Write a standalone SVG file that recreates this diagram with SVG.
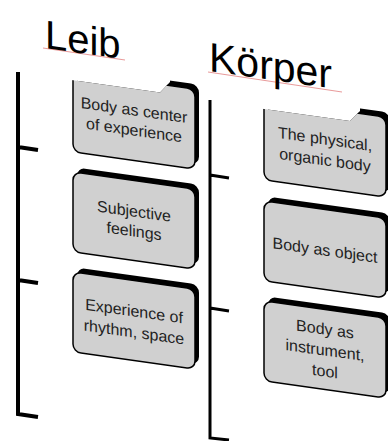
<svg xmlns="http://www.w3.org/2000/svg" width="388" height="441" viewBox="0 0 388 441">
<defs>
<style>
.sh{fill:#000}
.box{fill:#d0d0d0;stroke:#000;stroke-width:1.5}
.t{font-family:"Liberation Sans",Arial,sans-serif;font-size:16px;fill:#222;text-anchor:middle}
.title{font-family:"Liberation Sans",Arial,sans-serif;font-size:40px;fill:#000}
.ul{stroke:#e07070;stroke-width:1;opacity:0.7}
.br{fill:none;stroke:#000;stroke-linejoin:miter;stroke-linecap:butt}
</style>
<clipPath id="cL1" clipPathUnits="userSpaceOnUse"><polygon points="0,441 0,70 73,80.3 160,92.5 170,82 170,0 388,0 388,441"/></clipPath>
<clipPath id="cK1" clipPathUnits="userSpaceOnUse"><polygon points="200,441 200,100 264,109 350,121 360,111 360,0 388,0 388,441"/></clipPath>
</defs>
<rect width="388" height="441" fill="#fff"/>

<g id="title-leib">
<line class="ul" x1="43" y1="48" x2="125" y2="60"/>
<text class="title" transform="translate(45,48) skewY(8)" x="0" y="0">Leib</text>
</g>
<g id="title-koerper">
<line class="ul" x1="208" y1="72" x2="342" y2="92"/>
<text class="title" transform="translate(209,71) skewY(8)" x="0" y="0" style="font-size:41px">Körper</text>
</g>

<g id="connectors">
<path class="br" stroke-width="4" d="M18,72 L18,414 L38,417 M18,147 L38,150 M18,280 L38,283"/>
<path class="br" stroke-width="3" d="M210,100 L210,438 L229,440 M210,175 L229,178 M210,308 L229,311"/>
</g>

<g id="leib-1" clip-path="url(#cL1)">
<g transform="translate(73,72) skewY(8)">
<rect class="sh" x="4" y="-5" width="122" height="80" rx="8"/>
<rect class="box" x="0" y="0" width="122" height="80" rx="8"/>
<text class="t" x="61" y="35">Body as center</text>
<text class="t" x="61" y="55">of experience</text>
</g>
</g>
<g id="leib-2" transform="translate(73,172) skewY(8)">
<rect class="sh" x="4" y="-5" width="122" height="80" rx="8"/>
<rect class="box" x="0" y="0" width="122" height="80" rx="8"/>
<text class="t" x="61" y="36">Subjective</text>
<text class="t" x="61" y="56">feelings</text>
</g>
<g id="leib-3" transform="translate(73,272) skewY(8)">
<rect class="sh" x="4" y="-5" width="122" height="80" rx="8"/>
<rect class="box" x="0" y="0" width="122" height="80" rx="8"/>
<text class="t" x="61" y="36">Experience of</text>
<text class="t" x="61" y="57">rhythm, space</text>
</g>

<g id="koerper-1" clip-path="url(#cK1)">
<g transform="translate(264,100) skewY(8)">
<rect class="sh" x="4" y="-5" width="122" height="80" rx="8"/>
<rect class="box" x="0" y="0" width="122" height="80" rx="8"/>
<text class="t" x="61" y="36">The physical,</text>
<text class="t" x="61" y="57">organic body</text>
</g>
</g>
<g id="koerper-2" transform="translate(264,201) skewY(8)">
<rect class="sh" x="4" y="-5" width="122" height="80" rx="8"/>
<rect class="box" x="0" y="0" width="122" height="80" rx="8"/>
<text class="t" x="61" y="46">Body as object</text>
</g>
<g id="koerper-3" transform="translate(264,301) skewY(8)">
<rect class="sh" x="4" y="-5" width="122" height="80" rx="8"/>
<rect class="box" x="0" y="0" width="122" height="80" rx="8"/>
<text class="t" x="61" y="25">Body as</text>
<text class="t" x="61" y="46">instrument,</text>
<text class="t" x="61" y="67">tool</text>
</g>
</svg>
